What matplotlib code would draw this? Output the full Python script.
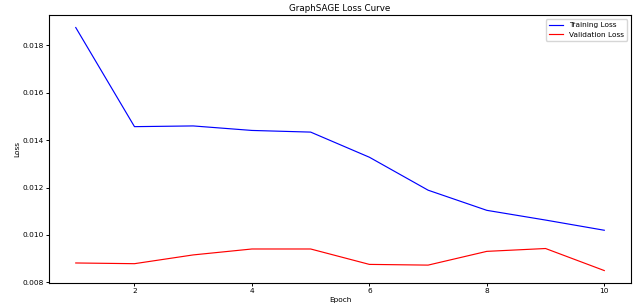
import matplotlib
matplotlib.use("Agg")
import matplotlib.pyplot as plt

epochs = [1, 2, 3, 4, 5, 6, 7, 8, 9, 10]
train_loss = [0.01875, 0.01457, 0.0146, 0.01441, 0.01434, 0.01328, 0.01189, 0.01104, 0.01063, 0.0102]
val_loss = [0.00882, 0.00879, 0.00916, 0.00941, 0.00941, 0.00876, 0.00873, 0.00931, 0.00943, 0.0085]

s = 0.528  # scale of the original 12x6 figure
plt.rcParams['font.size'] = 10 * s

fig = plt.figure(figsize=(6.34, 3.06), dpi=100)
ax = fig.add_axes([0.0778, 0.0761, 0.917, 0.8736])

ax.plot(epochs, train_loss, color='blue', lw=1.6 * s, label='Training Loss')
ax.plot(epochs, val_loss, color='red', lw=1.6 * s, label='Validation Loss')

ax.set_title('GraphSAGE Loss Curve', pad=6 * s)
ax.set_xlabel('Epoch', labelpad=4 * s)
ax.set_ylabel('Loss', labelpad=4 * s)
ax.legend(loc='upper right', borderpad=0.4, handlelength=2.0)

for sp in ax.spines.values():
    sp.set_linewidth(0.8)
ax.tick_params(width=0.7, length=3.5 * s, pad=3.5 * s)

fig.savefig('out.png', dpi=100)
